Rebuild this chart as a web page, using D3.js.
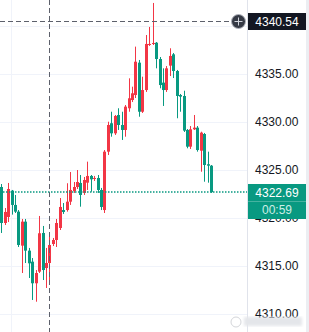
<!DOCTYPE html>
<html>
<head>
<meta charset="utf-8">
<script src="https://cdn.jsdelivr.net/npm/d3@7"></script>
<style>
  body { margin: 0; background: #fff; overflow: hidden; }
  svg { display: block; }
</style>
</head>
<body>
<div id="chart"></div>
<script>
// OHLC values per candle (1 minute bars)
var opens = [4323.23, 4319.48, 4320.11, 4322.85, 4321.36, 4320.66, 4317.12, 4319.62, 4316.60, 4315.45,
  4313.20, 4314.41, 4318.44, 4314.79, 4315.31, 4317.29, 4317.71, 4318.96, 4320.83, 4320.83,
  4321.70, 4322.81, 4323.23, 4323.65, 4322.61, 4323.68, 4324.38, 4324.08, 4324.17, 4322.92,
  4320.83, 4326.91, 4329.87, 4328.82, 4330.73, 4329.69, 4329.17, 4331.43, 4332.29, 4332.81,
  4336.18, 4331.07, 4333.33, 4338.02, 4338.13, 4338.26, 4336.56, 4334.10, 4333.33, 4335.87,
  4337.05, 4335.31, 4332.81, 4332.71, 4329.17, 4327.43, 4329.24, 4329.41, 4327.01, 4328.75,
  4325.60, 4325.45];
var highs = [4323.54, 4321.04, 4323.65, 4322.92, 4322.40, 4320.83, 4319.90, 4319.90, 4316.88, 4315.83,
  4314.58, 4320.21, 4319.17, 4316.88, 4318.23, 4317.92, 4319.90, 4322.08, 4321.56, 4323.62,
  4324.79, 4323.75, 4325.00, 4324.48, 4324.27, 4325.87, 4324.48, 4324.38, 4324.48, 4323.13,
  4327.08, 4330.03, 4331.07, 4330.73, 4331.43, 4331.07, 4331.77, 4334.55, 4333.68, 4337.85,
  4336.46, 4334.72, 4339.06, 4339.90, 4342.40, 4338.33, 4336.77, 4335.59, 4335.83, 4337.68,
  4337.19, 4335.42, 4332.92, 4333.26, 4329.27, 4329.58, 4330.73, 4329.58, 4328.99, 4328.86,
  4326.91, 4325.52];
var lows = [4318.44, 4319.27, 4319.58, 4320.35, 4320.52, 4316.98, 4314.27, 4315.31, 4313.75, 4311.46,
  4311.28, 4314.27, 4313.54, 4312.71, 4313.54, 4317.08, 4316.98, 4318.75, 4320.42, 4320.66,
  4321.36, 4322.61, 4323.02, 4321.18, 4322.40, 4322.92, 4322.74, 4323.86, 4322.61, 4320.83,
  4320.52, 4326.56, 4328.47, 4328.65, 4329.17, 4328.13, 4328.47, 4331.07, 4332.08, 4332.50,
  4330.55, 4330.94, 4333.13, 4337.92, 4338.02, 4335.59, 4333.51, 4331.67, 4333.13, 4334.79,
  4334.58, 4330.39, 4331.07, 4328.96, 4327.26, 4327.19, 4329.17, 4326.91, 4324.82, 4323.78,
  4323.68, 4322.61];
var closes = [4319.48, 4320.63, 4323.02, 4321.36, 4320.66, 4317.19, 4319.62, 4316.60, 4315.28, 4313.20,
  4314.27, 4318.41, 4314.58, 4315.31, 4317.19, 4317.71, 4319.48, 4321.15, 4320.63, 4321.70,
  4322.92, 4323.23, 4323.75, 4322.40, 4323.96, 4324.38, 4324.03, 4324.17, 4322.92, 4321.15,
  4326.91, 4329.69, 4328.82, 4330.63, 4329.69, 4329.17, 4331.60, 4332.47, 4332.99, 4336.28,
  4331.07, 4333.33, 4338.13, 4338.13, 4338.23, 4336.56, 4333.85, 4333.33, 4335.59, 4336.88,
  4335.31, 4332.71, 4332.64, 4329.10, 4327.43, 4329.24, 4329.41, 4327.08, 4328.89, 4325.52,
  4325.45, 4322.69];

// price scale
var gridPrices = [4310, 4315, 4320, 4325, 4330, 4335, 4340];
var tickPrices = [4310, 4315, 4320, 4325, 4330, 4335];

// crosshair + last price
var crossIndex = 14;
var crossPrice = 4340.54;
var lastPrice = 4322.69;
var countdown = '00:59';
var timeGridIndex = 3;

var width = 309, height = 332;
var paneRight = 247;   // price scale starts here

var upColor = '#f23645';   // red = rising
var downColor = '#089981'; // green = falling
var font = '"Liberation Sans", Arial, sans-serif';

var svg = d3.select('#chart').append('svg')
  .attr('width', width)
  .attr('height', height);

svg.append('rect').attr('width', width).attr('height', height).attr('fill', '#fff');

var x = d3.scaleLinear().domain([0, opens.length - 1]).range([1.3, 211.1]);
var y = d3.scaleLinear().domain([4310, 4335]).range([314, 74]);

// grid
svg.append('g').selectAll('line')
  .data(gridPrices)
  .enter().append('line')
  .attr('x1', 0).attr('x2', paneRight)
  .attr('y1', function(d) { return Math.round(y(d)) + 0.5; })
  .attr('y2', function(d) { return Math.round(y(d)) + 0.5; })
  .attr('stroke', '#f0f3fa');

svg.append('line')
  .attr('x1', Math.round(x(timeGridIndex)) - 0.5).attr('x2', Math.round(x(timeGridIndex)) - 0.5)
  .attr('y1', 0).attr('y2', height)
  .attr('stroke', '#f0f3fa');

// candles
var candles = svg.append('g').selectAll('g')
  .data(opens.map(function(o, i) {
    return { i: i, o: o, h: highs[i], l: lows[i], c: closes[i] };
  }))
  .enter().append('g');

candles.append('line')
  .attr('x1', function(d) { return Math.round(x(d.i)) + 0.5; })
  .attr('x2', function(d) { return Math.round(x(d.i)) + 0.5; })
  .attr('y1', function(d) { return y(d.h); })
  .attr('y2', function(d) { return y(d.l); })
  .attr('stroke', function(d) { return d.c >= d.o ? upColor : downColor; })
  .attr('stroke-width', 1);

candles.append('rect')
  .attr('x', function(d) { return Math.round(x(d.i)) - 1; })
  .attr('width', 3)
  .attr('y', function(d) { return y(Math.max(d.o, d.c)); })
  .attr('height', function(d) { return Math.max(1, Math.abs(y(d.o) - y(d.c))); })
  .attr('fill', function(d) { return d.c >= d.o ? upColor : downColor; });

// last price dotted line
var lastY = Math.round(y(lastPrice));
svg.append('line')
  .attr('x1', 0).attr('x2', paneRight)
  .attr('y1', lastY).attr('y2', lastY)
  .attr('stroke', downColor)
  .attr('stroke-width', 1.5)
  .attr('stroke-dasharray', '1.5,1.5');

// crosshair
var cx = Math.round(x(crossIndex)) + 0.5;
var cy = Math.round(y(crossPrice)) + 0.5;
svg.append('line')
  .attr('x1', cx).attr('x2', cx)
  .attr('y1', 0).attr('y2', height)
  .attr('stroke', '#5d606b')
  .attr('stroke-dasharray', '5,3');
svg.append('line')
  .attr('x1', 0).attr('x2', 231)
  .attr('y1', cy).attr('y2', cy)
  .attr('stroke', '#5d606b')
  .attr('stroke-dasharray', '5,3');

// price scale
svg.append('line')
  .attr('x1', paneRight + 0.5).attr('x2', paneRight + 0.5)
  .attr('y1', 0).attr('y2', height)
  .attr('stroke', '#e0e3eb');
svg.append('rect')
  .attr('x', 306).attr('y', 0).attr('width', 3).attr('height', height)
  .attr('fill', '#eceef2');

var axis = d3.axisRight(y)
  .tickValues(tickPrices)
  .tickSize(0)
  .tickPadding(8)
  .tickFormat(d3.format('.2f'));

var axisG = svg.append('g')
  .attr('transform', 'translate(' + paneRight + ',0)')
  .call(axis);
axisG.select('.domain').remove();
axisG.selectAll('text')
  .attr('font-family', font)
  .attr('font-size', 12)
  .attr('fill', '#131722');

// last price label
svg.append('rect')
  .attr('x', 248).attr('y', lastY - 8).attr('width', 58).attr('height', 35)
  .attr('fill', downColor);
svg.append('line')
  .attr('x1', 248).attr('x2', 306)
  .attr('y1', lastY + 9.5).attr('y2', lastY + 9.5)
  .attr('stroke', 'rgba(255,255,255,0.25)');
svg.append('text')
  .attr('x', 277).attr('y', lastY + 0.5)
  .attr('dy', '0.35em')
  .attr('text-anchor', 'middle')
  .attr('font-family', font).attr('font-size', 12)
  .attr('fill', '#fff')
  .text(d3.format('.2f')(lastPrice));
svg.append('text')
  .attr('x', 277).attr('y', lastY + 18)
  .attr('dy', '0.35em')
  .attr('text-anchor', 'middle')
  .attr('font-family', font).attr('font-size', 12)
  .attr('fill', '#cdeee6')
  .text(countdown);

// crosshair label + plus button
svg.append('rect')
  .attr('x', 248).attr('y', cy - 8.5).attr('width', 58).attr('height', 17)
  .attr('fill', '#131722');
svg.append('text')
  .attr('x', 277).attr('y', cy)
  .attr('dy', '0.35em')
  .attr('text-anchor', 'middle')
  .attr('font-family', font).attr('font-size', 12)
  .attr('fill', '#fff')
  .text(d3.format('.2f')(crossPrice));

svg.append('circle')
  .attr('cx', 238.5).attr('cy', cy).attr('r', 7)
  .attr('fill', '#363a45')
  .attr('stroke', '#b2b5be');
svg.append('path')
  .attr('d', 'M234.5,' + cy + 'H242.5M238.5,' + (cy - 4) + 'V' + (cy + 4))
  .attr('stroke', '#d1d4dc');

// faint watermark smudge bottom right
var blur = svg.append('defs').append('filter').attr('id', 'wm');
blur.append('feGaussianBlur').attr('stdDeviation', 1.5);
svg.append('circle')
  .attr('cx', 236).attr('cy', 322).attr('r', 5)
  .attr('fill', 'none').attr('stroke', '#d4d6da');
svg.append('rect')
  .attr('x', 244).attr('y', 317).attr('width', 58).attr('height', 9)
  .attr('fill', '#e4e6ea').attr('filter', 'url(#wm)');
</script>
</body>
</html>
